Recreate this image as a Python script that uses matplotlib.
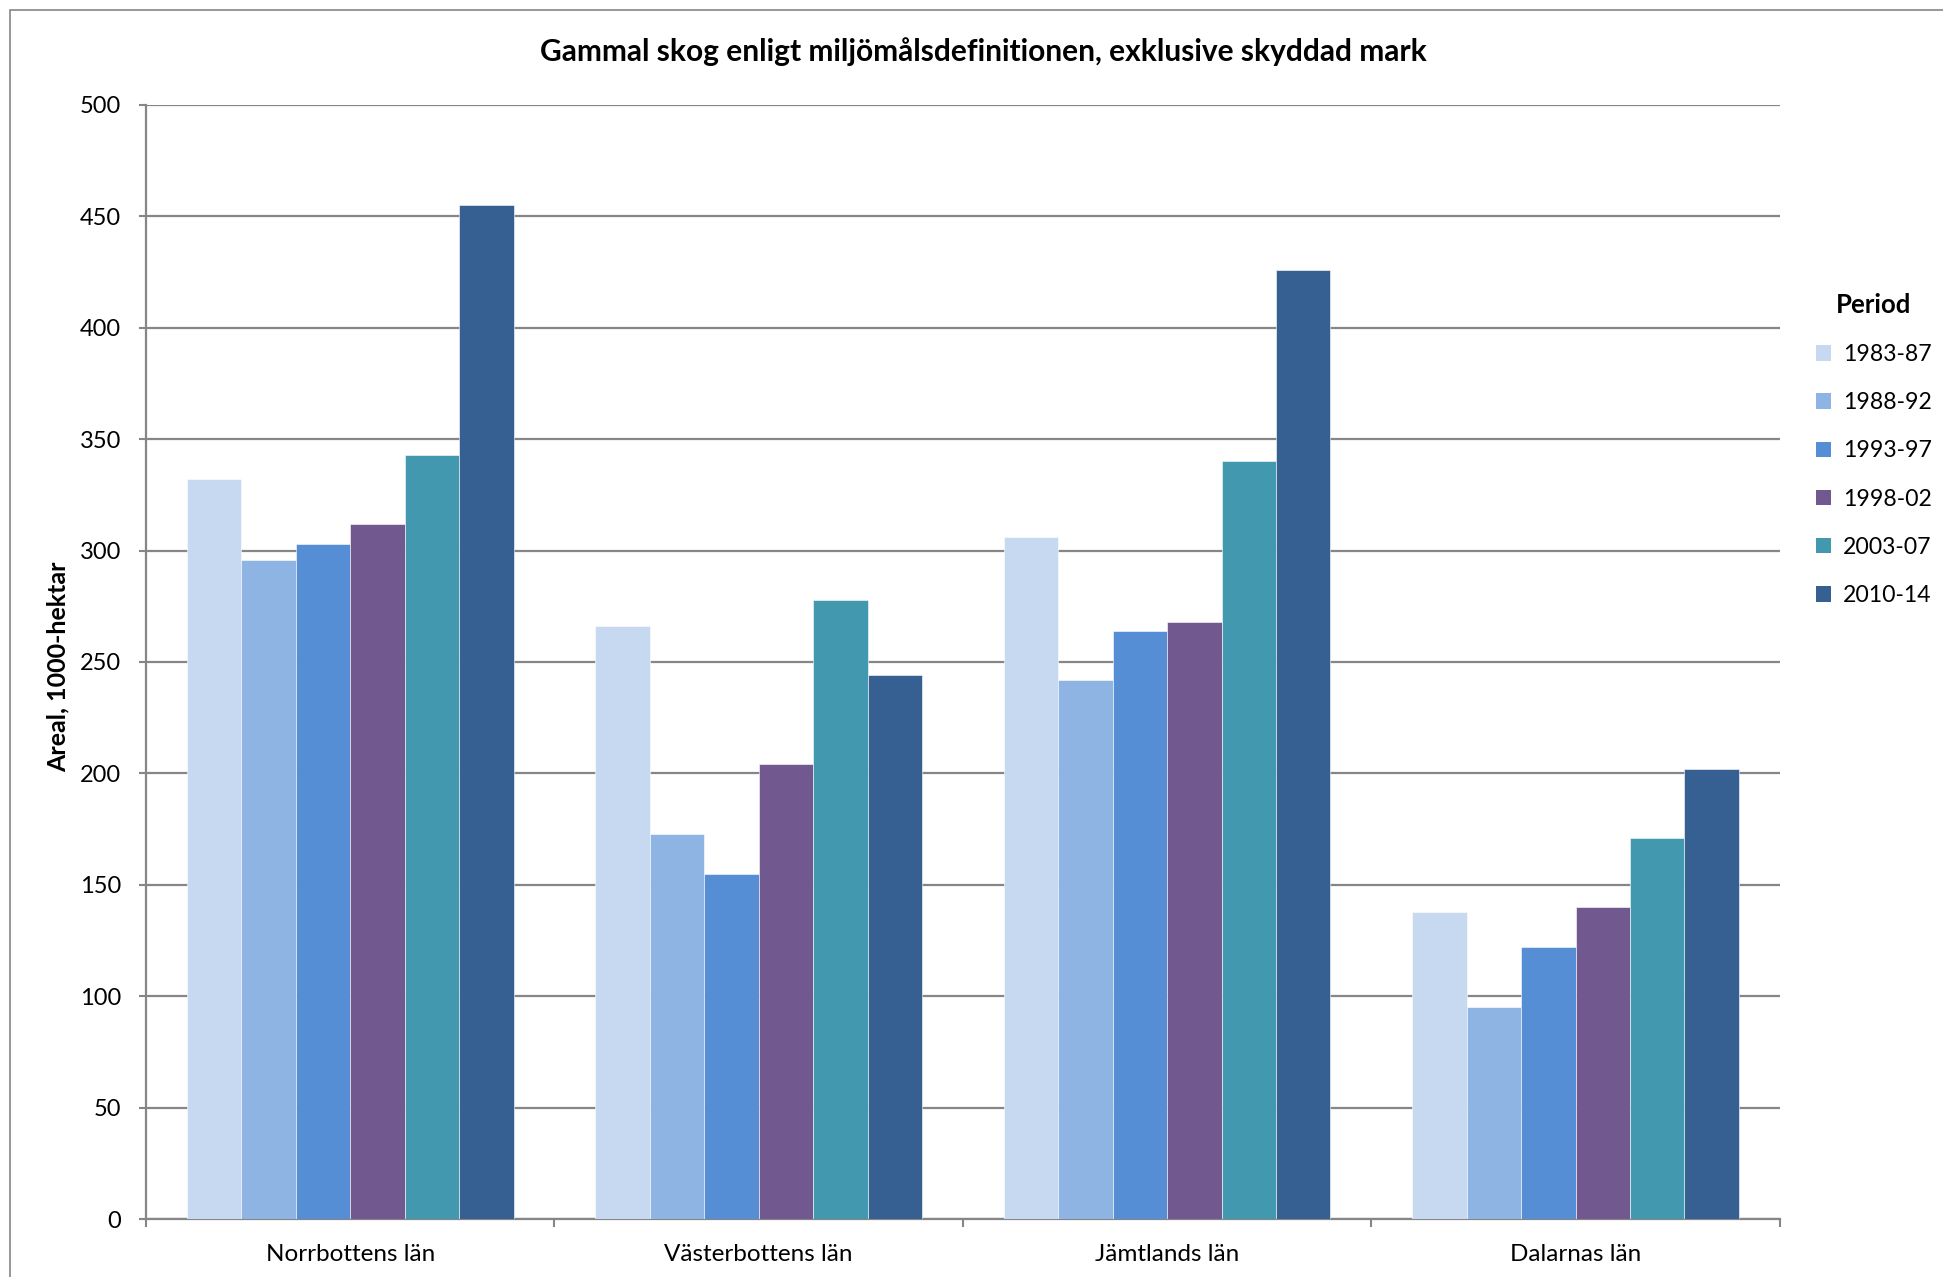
import matplotlib
matplotlib.use("Agg")
import matplotlib.pyplot as plt
import numpy as np
from matplotlib.patches import Patch, Rectangle

plt.rcParams['font.family'] = ['Lato', 'DejaVu Sans']

# Data (1000 hektar)
regions = ["Norrbottens län", "Västerbottens län", "Jämtlands län", "Dalarnas län"]
periods = ["1983-87", "1988-92", "1993-97", "1998-02", "2003-07", "2010-14"]
v_1983_87 = [332, 266, 306, 138]
v_1988_92 = [296, 173, 242, 95]
v_1993_97 = [303, 155, 264, 122]
v_1998_02 = [312, 204, 268, 140]
v_2003_07 = [343, 278, 340, 171]
v_2010_14 = [455, 244, 426, 202]
yticks = [0, 50, 100, 150, 200, 250, 300, 350, 400, 450, 500]

series = [v_1983_87, v_1988_92, v_1993_97, v_1998_02, v_2003_07, v_2010_14]
colors = ["#C6D9F1", "#8EB4E3", "#558ED5", "#71588F", "#4298AF", "#366092"]
gray = "#868686"

fig = plt.figure(figsize=(19.43, 12.77), dpi=100)
ax = fig.add_axes([0.0751, 0.0454, 0.8409, 0.8724])

x = np.arange(len(regions))
w = 0.8 / len(series)
for i, (vals, col) in enumerate(zip(series, colors)):
    ax.bar(x - 0.4 + w * (i + 0.5), vals, width=w, color=col,
           edgecolor="white", linewidth=0.4, zorder=3)

ax.set_xlim(-0.5, len(regions) - 0.5)
ax.set_ylim(0, 500)
ax.set_yticks(yticks)
ax.set_xticks(x)
ax.set_xticklabels(regions)
ax.set_xticks(np.arange(len(regions) + 1) - 0.5, minor=True)
ax.tick_params(axis="x", which="major", length=0, pad=18, labelsize=17.5)
ax.tick_params(axis="x", which="minor", length=6, width=1.5, color=gray)
ax.tick_params(axis="y", length=5, width=1.5, color=gray, pad=13, labelsize=17)

ax.grid(axis="y", color=gray, linewidth=1.6, zorder=0)
for s in ["top", "right"]:
    ax.spines[s].set_visible(False)
for s in ["left", "bottom"]:
    ax.spines[s].set_color(gray)
    ax.spines[s].set_linewidth(1.6)

fig.text(0.506, 0.960, "Gammal skog enligt miljömålsdefinitionen, exklusive skyddad mark",
         ha="center", va="center", fontsize=21.5, fontweight="bold")
fig.text(0.0299, 0.478, "Areal, 1000-hektar", rotation=90, ha="center", va="center",
         fontsize=18, fontweight="bold")

handles = [Patch(facecolor=c, edgecolor="none") for c in colors]
leg = fig.legend(handles, periods, loc="upper left", bbox_to_anchor=(0.930, 0.778),
                 frameon=False, fontsize=16.6, title="Period",
                 title_fontproperties={"weight": "bold", "size": 18.5},
                 handlelength=0.65, handleheight=0.65, handletextpad=0.5,
                 labelspacing=1.18, borderaxespad=0)

# outer chart border
fig.patches.append(Rectangle((10 / 1943, -0.05), 1.1, 0.05 + 1 - 10 / 1277,
                             transform=fig.transFigure, fill=False,
                             edgecolor=gray, linewidth=1.2))

fig.savefig("out.png", dpi=100)
